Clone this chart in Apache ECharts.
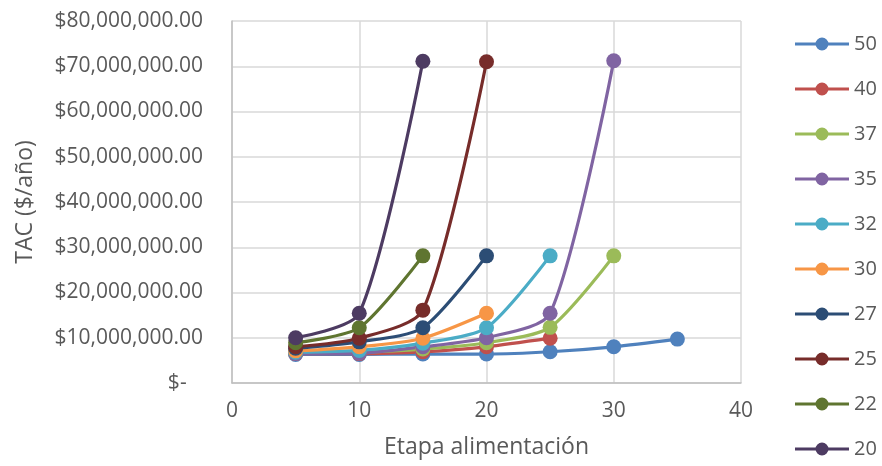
<!DOCTYPE html>
<html>
<head>
<meta charset="utf-8">
<script src="https://cdn.jsdelivr.net/npm/echarts@6/dist/echarts.min.js"></script>
<style>html,body{margin:0;padding:0;background:#fff}#c{width:882px;height:466px}</style>
</head>
<body>
<div id="c"></div>
<script>
const etapas = [5, 10, 15, 20, 25, 30, 35];
const seriesNames = ['50', '40', '37', '35', '32', '30', '27', '25', '22', '20'];
const s50 = [6.3e6, 6.3e6, 6.4e6, 6.4e6, 6.9e6, 8.0e6, 9.7e6];
const s40 = [6.5e6, 6.5e6, 6.9e6, 8.0e6, 9.9e6];
const s37 = [6.6e6, 6.8e6, 7.5e6, 8.9e6, 12.3e6, 28.1e6];
const s35 = [6.5e6, 6.6e6, 8.0e6, 10.0e6, 15.4e6, 71.2e6];
const s32 = [6.8e6, 7.2e6, 8.8e6, 12.2e6, 28.1e6];
const s30 = [7.1e6, 8.0e6, 9.9e6, 15.4e6];
const s27 = [7.7e6, 9.1e6, 12.2e6, 28.1e6];
const s25 = [8.0e6, 9.9e6, 16.1e6, 71.0e6];
const s22 = [8.9e6, 12.2e6, 28.1e6];
const s20 = [10.0e6, 15.4e6, 71.1e6];
const yTicks = [0, 1e7, 2e7, 3e7, 4e7, 5e7, 6e7, 7e7, 8e7];
const xTicks = [0, 10, 20, 30, 40];

const allValues = [s50, s40, s37, s35, s32, s30, s27, s25, s22, s20];
const colors = ['#4F81BD', '#C0504D', '#9BBB59', '#8064A2', '#4BACC6', '#F79646', '#2C4D75', '#772C2A', '#5F7530', '#4D3B62'];
const FONT = '"Open Sans", "DejaVu Sans", sans-serif';
const TXT = '#595959';
const LEGEND_ICON = 'path://M0,5H54V8H0Z M20.5,6.5A6.5,6.5 0 1 1 33.5,6.5A6.5,6.5 0 1 1 20.5,6.5Z';

const chart = echarts.init(document.getElementById('c'));
chart.setOption({
  animation: false,
  color: colors,
  textStyle: { fontFamily: FONT },
  grid: { left: 232, right: 141, top: 21, bottom: 83 },
  legend: {
    orient: 'vertical',
    left: 795,
    top: 34,
    padding: 0,
    itemWidth: 54,
    itemHeight: 13,
    itemGap: 25,
    icon: LEGEND_ICON,
    data: seriesNames,
    textStyle: { fontSize: 20, lineHeight: 20, color: TXT, fontFamily: FONT }
  },
  xAxis: {
    type: 'value',
    min: xTicks[0],
    max: xTicks[xTicks.length - 1],
    interval: 10,
    name: 'Etapa alimentación',
    nameLocation: 'middle',
    nameGap: 53,
    nameTextStyle: { fontSize: 23, color: TXT },
    axisLine: { show: true, lineStyle: { color: '#BFBFBF', width: 1.5 } },
    axisTick: { show: false },
    axisLabel: { fontSize: 21, color: TXT, margin: 18 },
    splitLine: { show: true, lineStyle: { color: '#D9D9D9', width: 1.5 } }
  },
  yAxis: {
    type: 'value',
    min: yTicks[0],
    max: yTicks[yTicks.length - 1],
    interval: 1e7,
    name: 'TAC ($/año)',
    nameLocation: 'middle',
    nameGap: 195,
    nameTextStyle: { fontSize: 23, color: TXT },
    axisLine: { show: true, lineStyle: { color: '#BFBFBF', width: 1.5 } },
    axisTick: { show: false },
    axisLabel: {
      fontSize: 21, color: TXT, margin: 29,
      formatter: v => v === 0 ? '$-   ' : '$' + v.toLocaleString('en-US', { minimumFractionDigits: 2, maximumFractionDigits: 2 })
    },
    splitLine: { show: true, lineStyle: { color: '#D9D9D9', width: 1.5 } }
  },
  series: seriesNames.map((n, i) => ({
    name: n,
    type: 'line',
    smooth: 0.25,
    symbol: 'circle',
    symbolSize: 15,
    lineStyle: { width: 3.2 },
    data: allValues[i].map((v, j) => [etapas[j], v])
  }))
});
</script>
</body>
</html>
